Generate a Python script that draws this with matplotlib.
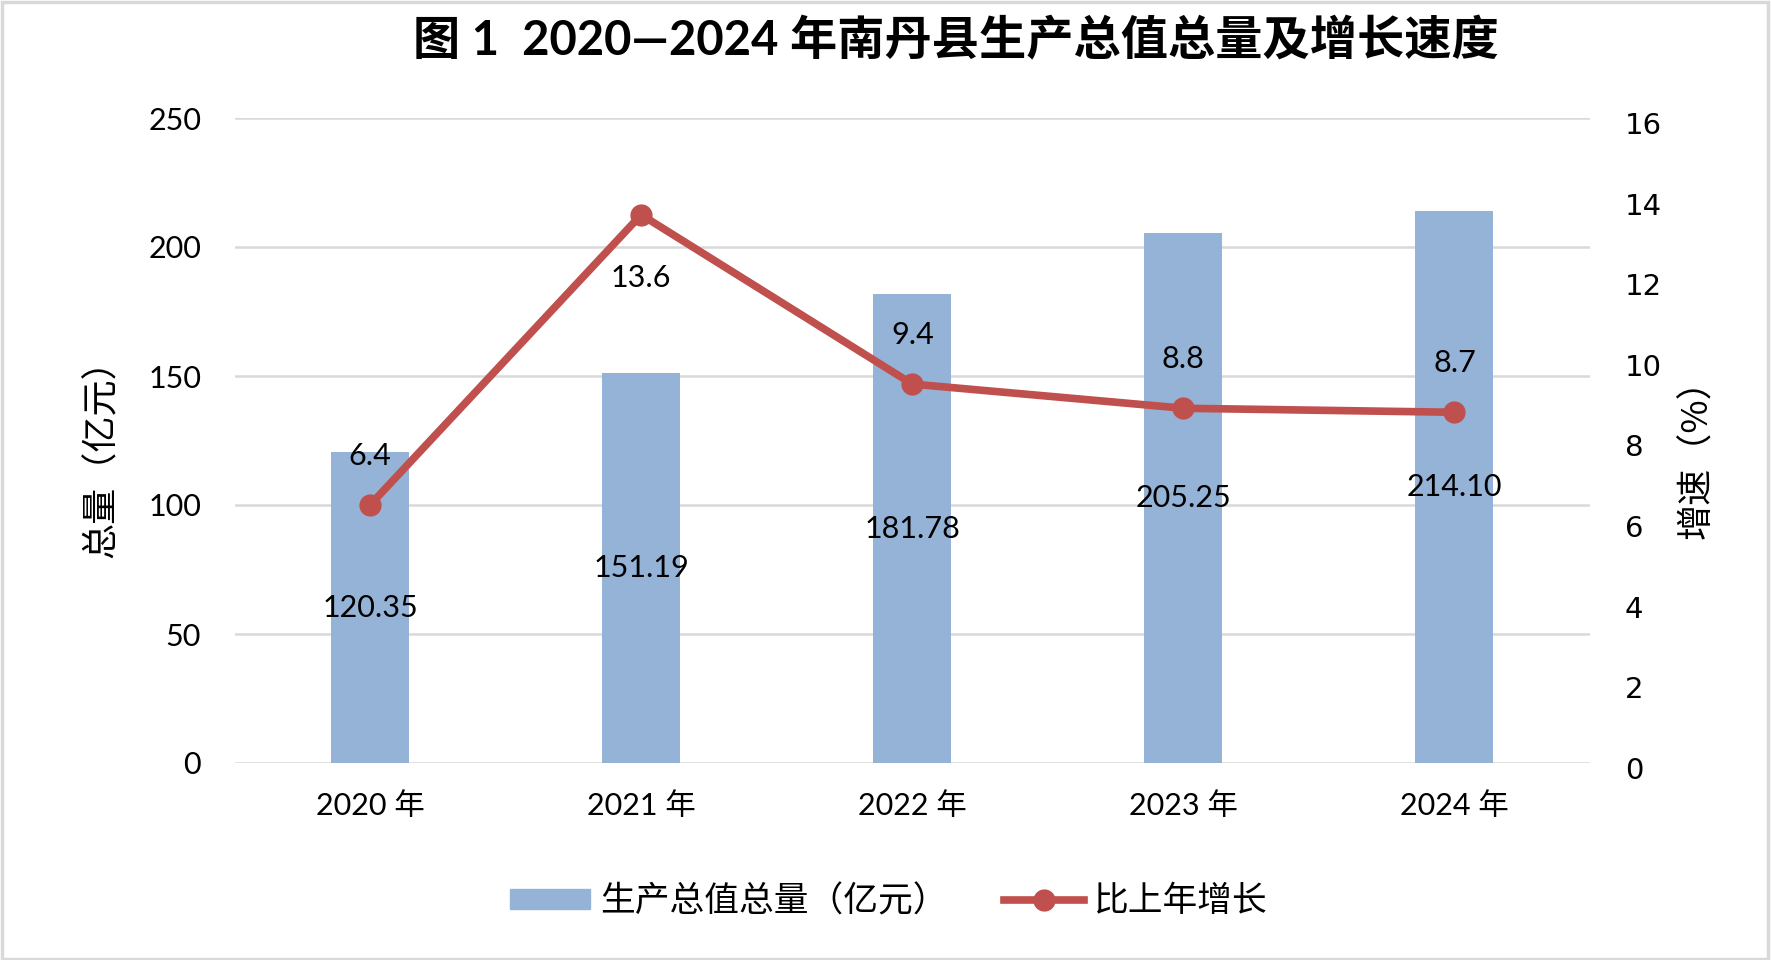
import numpy as np
import matplotlib.pyplot as plt
import matplotlib.transforms as mtransforms
from matplotlib.patches import Patch, Rectangle
from matplotlib.lines import Line2D

# data
years = ['2020 年', '2021 年', '2022 年', '2023 年', '2024 年']
total = [120.35, 151.19, 181.78, 205.25, 214.10]
growth = [6.4, 13.6, 9.4, 8.8, 8.7]
# label position for growth values: 1 = above the point, -1 = below
growth_lab_side = [1, -1, 1, 1, 1]

bar_color = '#95B3D7'
line_color = '#C0504D'
grid_color = '#D9D9D9'
num_font = ['Lato', 'Noto Sans CJK SC']
cjk_font = ['Noto Sans CJK SC', 'DejaVu Sans']

plt.rcParams['font.family'] = cjk_font

fig = plt.figure(figsize=(17.72, 9.6), dpi=100)
ax = fig.add_axes([234.5 / 1772, 1 - 763 / 960, (1590 - 234.5) / 1772, (763 - 118) / 960])
ax2 = ax.twinx()

x = np.arange(len(years))
ax.bar(x, total, width=0.288, color=bar_color, zorder=2)
ax.set_xlim(-0.5, 4.5)
ax.set_ylim(0, 250)
ax.set_yticks(np.arange(0, 251, 50))
ax.set_axisbelow(True)
ax.yaxis.grid(True, color=grid_color, linewidth=1.8)
ax.set_xticks(x)
ax.set_xticklabels(years, family=num_font, fontsize=22)
for lab in ax.get_yticklabels():
    lab.set_family(num_font)
    lab.set_fontsize(22)
ax.tick_params(axis='both', length=0)
ax.tick_params(axis='y', pad=24)
ax.tick_params(axis='x', pad=21)
for s in ax.spines.values():
    s.set_visible(False)

for xi, v in zip(x, total):
    ax.text(xi, v / 2, f'{v:.2f}', ha='center', va='center',
            family=num_font, fontsize=22, zorder=5)

ax2.plot(x, growth, color=line_color, linewidth=5.5, marker='o',
         markersize=15, zorder=4)
ax2.set_ylim(0, 16)
ax2.set_yticks(np.arange(0, 17, 2))
ax2.tick_params(axis='y', length=0, pad=25, labelsize=21)
shift = mtransforms.ScaledTranslation(0, -5 / 100, fig.dpi_scale_trans)
for lab in ax2.get_yticklabels():
    lab.set_family('DejaVu Sans')
    lab.set_transform(lab.get_transform() + shift)
for s in ax2.spines.values():
    s.set_visible(False)

for xi, v, side in zip(x, growth, growth_lab_side):
    off = 49 if side > 0 else -63
    ax2.annotate(f'{v:.1f}', (xi, v), xytext=(0, off), textcoords='offset pixels',
                 ha='center', va='center', family=num_font, fontsize=22)

fig.text(956 / 1772, 1 - 41 / 960, '图 1  2020—2024 年南丹县生产总值总量及增长速度',
         ha='center', va='center', fontsize=34, fontweight='bold', family=num_font)
fig.text(102 / 1772, 1 - 450 / 960, '总量（亿元）', rotation=90,
         ha='center', va='center', fontsize=26)
fig.text(1697 / 1772, 1 - 450 / 960, '增速（%）', rotation=90,
         ha='center', va='center', fontsize=26)

handles = [Patch(color=bar_color),
           Line2D([0], [0], color=line_color, linewidth=5.5, marker='o', markersize=15)]
fig.legend(handles, ['生产总值总量（亿元）', '比上年增长'], loc='center',
           bbox_to_anchor=(889 / 1772, 1 - 902 / 960), ncol=2, frameon=False,
           fontsize=25, handlelength=2.3, handleheight=0.5, handletextpad=0.3,
           columnspacing=1.6)

fig.patches.append(Rectangle((0.001, 0.001), 0.997, 0.997, transform=fig.transFigure,
                             fill=False, edgecolor=grid_color, linewidth=2.5))

fig.savefig('out.png', dpi=100, facecolor='white')
